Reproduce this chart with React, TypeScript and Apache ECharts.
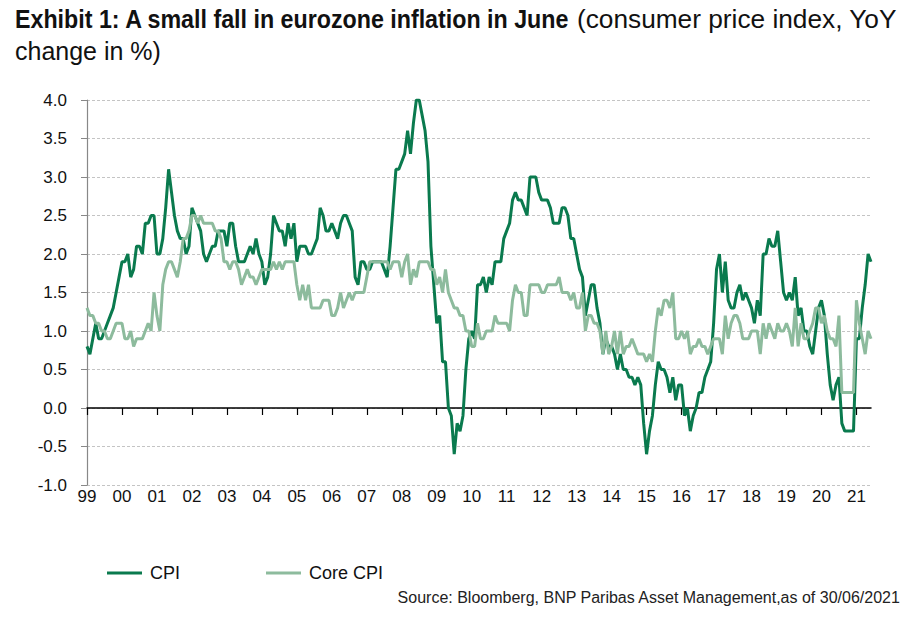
import React, { useEffect, useRef } from "react";
import * as echarts from "echarts";

// Year labels on the x axis (Jan of each year)
const yearLabels = ["99","00","01","02","03","04","05","06","07","08","09","10","11","12","13","14","15","16","17","18","19","20","21"];

// CPI, YoY % (monthly, Jan..Dec)
const cpi1999 = [0.8, 0.7, 0.9, 1.1, 0.9, 0.9, 1.0, 1.1, 1.2, 1.3, 1.5, 1.7];
const cpi2000 = [1.9, 1.9, 2.0, 1.7, 1.8, 2.1, 2.1, 2.0, 2.4, 2.4, 2.5, 2.5];
const cpi2001 = [2.0, 2.0, 2.2, 2.6, 3.1, 2.8, 2.5, 2.3, 2.2, 2.2, 2.0, 2.1];
const cpi2002 = [2.6, 2.5, 2.4, 2.3, 2.0, 1.9, 2.0, 2.1, 2.1, 2.3, 2.3, 2.3];
const cpi2003 = [2.1, 2.4, 2.4, 2.1, 1.9, 1.9, 1.9, 2.0, 2.1, 2.0, 2.2, 2.0];
const cpi2004 = [1.9, 1.6, 1.7, 2.0, 2.5, 2.4, 2.3, 2.3, 2.1, 2.4, 2.2, 2.4];
const cpi2005 = [1.9, 2.1, 2.1, 2.1, 2.0, 2.0, 2.1, 2.2, 2.6, 2.5, 2.3, 2.3];
const cpi2006 = [2.4, 2.3, 2.2, 2.4, 2.5, 2.5, 2.4, 2.3, 1.7, 1.6, 1.9, 1.9];
const cpi2007 = [1.8, 1.8, 1.9, 1.9, 1.9, 1.9, 1.8, 1.7, 2.1, 2.6, 3.1, 3.1];
const cpi2008 = [3.2, 3.3, 3.6, 3.3, 3.7, 4.0, 4.0, 3.8, 3.6, 3.2, 2.1, 1.6];
const cpi2009 = [1.1, 1.2, 0.6, 0.6, 0.0, -0.1, -0.6, -0.2, -0.3, -0.1, 0.5, 0.9];
const cpi2010 = [1.0, 0.9, 1.6, 1.6, 1.7, 1.5, 1.7, 1.6, 1.9, 1.9, 1.9, 2.2];
const cpi2011 = [2.3, 2.4, 2.7, 2.8, 2.7, 2.7, 2.6, 2.5, 3.0, 3.0, 3.0, 2.8];
const cpi2012 = [2.7, 2.7, 2.7, 2.6, 2.4, 2.4, 2.4, 2.6, 2.6, 2.5, 2.2, 2.2];
const cpi2013 = [2.0, 1.8, 1.7, 1.2, 1.4, 1.6, 1.6, 1.3, 1.1, 0.7, 0.9, 0.8];
const cpi2014 = [0.8, 0.7, 0.5, 0.7, 0.5, 0.5, 0.4, 0.4, 0.3, 0.4, 0.3, -0.2];
const cpi2015 = [-0.6, -0.3, -0.1, 0.3, 0.6, 0.5, 0.5, 0.4, 0.2, 0.4, 0.1, 0.3];
const cpi2016 = [0.3, -0.1, 0.0, -0.3, -0.1, 0.0, 0.2, 0.2, 0.4, 0.5, 0.6, 1.1];
const cpi2017 = [1.8, 2.0, 1.5, 1.9, 1.4, 1.3, 1.3, 1.5, 1.6, 1.4, 1.5, 1.4];
const cpi2018 = [1.3, 1.1, 1.4, 1.2, 2.0, 2.0, 2.2, 2.1, 2.1, 2.3, 1.9, 1.5];
const cpi2019 = [1.4, 1.5, 1.4, 1.7, 1.2, 1.3, 1.0, 1.0, 0.8, 0.7, 1.0, 1.3];
const cpi2020 = [1.4, 1.2, 0.7, 0.3, 0.1, 0.3, 0.4, -0.2, -0.3, -0.3, -0.3, -0.3];
const cpi2021 = [0.9, 0.9, 1.3, 1.6, 2.0, 1.9];

// Core CPI, YoY % (monthly, Jan..Dec)
const core1999 = [1.3, 1.2, 1.2, 1.1, 1.1, 1.0, 1.0, 0.9, 0.9, 1.0, 1.1, 1.1];
const core2000 = [1.1, 0.9, 0.9, 1.0, 0.8, 0.9, 0.9, 0.9, 1.0, 1.1, 1.0, 1.5];
const core2001 = [1.2, 1.0, 1.6, 1.8, 1.9, 1.9, 1.8, 1.7, 1.9, 2.2, 2.2, 2.3];
const core2002 = [2.5, 2.5, 2.4, 2.5, 2.4, 2.4, 2.4, 2.4, 2.3, 2.3, 2.2, 1.9];
const core2003 = [1.9, 1.8, 1.9, 1.9, 1.8, 1.6, 1.7, 1.8, 1.7, 1.7, 1.6, 1.7];
const core2004 = [1.8, 1.8, 1.8, 1.8, 1.9, 1.8, 1.9, 1.8, 1.9, 1.9, 1.9, 1.9];
const core2005 = [1.6, 1.4, 1.6, 1.4, 1.6, 1.3, 1.3, 1.3, 1.3, 1.4, 1.4, 1.4];
const core2006 = [1.2, 1.2, 1.3, 1.5, 1.3, 1.4, 1.5, 1.4, 1.5, 1.5, 1.5, 1.5];
const core2007 = [1.7, 1.9, 1.9, 1.9, 1.9, 1.9, 1.9, 1.9, 1.8, 1.9, 1.9, 1.9];
const core2008 = [1.7, 1.9, 2.0, 1.6, 1.8, 1.7, 1.9, 1.9, 1.9, 1.9, 1.8, 1.8];
const core2009 = [1.6, 1.7, 1.5, 1.8, 1.5, 1.4, 1.3, 1.3, 1.2, 1.2, 1.0, 1.0];
const core2010 = [0.8, 0.8, 1.1, 0.9, 0.9, 1.0, 1.0, 1.0, 1.2, 1.1, 1.1, 1.1];
const core2011 = [1.1, 1.0, 1.4, 1.6, 1.5, 1.5, 1.2, 1.2, 1.6, 1.6, 1.6, 1.6];
const core2012 = [1.5, 1.5, 1.6, 1.6, 1.6, 1.6, 1.7, 1.5, 1.5, 1.5, 1.4, 1.5];
const core2013 = [1.3, 1.3, 1.5, 1.0, 1.2, 1.2, 1.1, 1.1, 1.0, 0.7, 1.0, 0.7];
const core2014 = [0.8, 1.0, 0.7, 1.0, 0.7, 0.8, 0.8, 0.9, 0.8, 0.7, 0.7, 0.7];
const core2015 = [0.6, 0.7, 0.6, 1.0, 1.3, 1.2, 1.4, 1.4, 1.3, 1.5, 0.9, 0.9];
const core2016 = [1.0, 0.9, 1.0, 0.7, 0.8, 0.8, 0.9, 0.8, 0.8, 0.7, 0.8, 0.9];
const core2017 = [0.9, 0.9, 0.7, 1.2, 0.9, 1.1, 1.2, 1.2, 1.1, 0.9, 0.9, 0.9];
const core2018 = [1.0, 1.0, 1.0, 0.7, 1.1, 0.9, 1.1, 1.0, 0.9, 1.1, 1.0, 1.0];
const core2019 = [1.1, 1.0, 0.8, 1.3, 0.8, 1.1, 0.9, 0.9, 1.0, 1.1, 1.3, 1.3];
const core2020 = [1.1, 1.2, 1.0, 0.9, 0.9, 0.8, 1.2, 0.2, 0.2, 0.2, 0.2, 0.2];
const core2021 = [1.4, 1.1, 0.9, 0.7, 1.0, 0.9];

const cpi = [
  cpi1999, cpi2000, cpi2001, cpi2002, cpi2003, cpi2004, cpi2005, cpi2006,
  cpi2007, cpi2008, cpi2009, cpi2010, cpi2011, cpi2012, cpi2013, cpi2014,
  cpi2015, cpi2016, cpi2017, cpi2018, cpi2019, cpi2020, cpi2021,
].flat();
const core = [
  core1999, core2000, core2001, core2002, core2003, core2004, core2005, core2006,
  core2007, core2008, core2009, core2010, core2011, core2012, core2013, core2014,
  core2015, core2016, core2017, core2018, core2019, core2020, core2021,
].flat();

// Monthly categories "YY/M"
const categories: string[] = [];
yearLabels.forEach((y) => {
  for (let m = 1; m <= 12; m++) categories.push(`${y}/${m}`);
});
categories.length = cpi.length;

const TITLE_BOLD = "Exhibit 1: A small fall in eurozone inflation in June";
const TITLE_REST_1 = "(consumer price index, YoY";
const TITLE_REST_2 = "change in %)";
const SOURCE = "Source: Bloomberg, BNP Paribas Asset Management,as of 30/06/2021";

const CPI_COLOR = "#0a7a4e";
const CORE_COLOR = "#8dbb9d";
const SANS = "'Liberation Sans', Arial, sans-serif";

export default function App() {
  const ref = useRef<HTMLDivElement>(null);
  useEffect(() => {
    if (!ref.current) return;
    const chart = echarts.init(ref.current, null, { renderer: "svg" });
    const isYearStart = (i: number) => i % 12 === 0;
    chart.setOption({
      animation: false,
      backgroundColor: "#ffffff",
      grid: { left: 87, right: 44, top: 100, bottom: 136, containLabel: false },
      legend: {
        left: 102,
        top: 559,
        icon: "rect",
        itemWidth: 35,
        itemHeight: 3,
        itemGap: 86,
        textStyle: { fontFamily: SANS, fontSize: 18, color: "#111", padding: [0, 0, 0, 3] },
        data: ["CPI", "Core CPI"],
      },
      xAxis: [
        {
          type: "category",
          data: categories,
          boundaryGap: false,
          position: "bottom",
          axisLine: { show: false, onZero: false },
          axisTick: { show: false },
          splitLine: { show: false },
          axisLabel: {
            interval: (i: number) => isYearStart(i),
            formatter: (v: string) => v.split("/")[0],
            fontFamily: SANS,
            fontSize: 17,
            color: "#111",
            margin: 3,
          },
        },
        {
          type: "category",
          data: categories,
          boundaryGap: false,
          position: "bottom",
          axisLine: { show: true, onZero: true, lineStyle: { color: "#000", width: 1.5 } },
          axisTick: {
            show: true,
            interval: (i: number) => isYearStart(i),
            length: 7,
            lineStyle: { color: "#000", width: 1.2 },
          },
          axisLabel: { show: false },
          splitLine: { show: false },
        },
      ],
      yAxis: {
        type: "value",
        min: -1,
        max: 4,
        interval: 0.5,
        axisLine: { show: true, lineStyle: { color: "#888", width: 1.2 } },
        axisTick: { show: true, length: 6, lineStyle: { color: "#888" } },
        axisLabel: {
          formatter: (v: number) => v.toFixed(1),
          fontFamily: SANS,
          fontSize: 17,
          color: "#111",
          margin: 20,
        },
        splitLine: { show: true, lineStyle: { color: "#c4c4c4", type: [3, 2], width: 1 } },
      },
      series: [
        {
          name: "CPI",
          type: "line",
          data: cpi,
          symbol: "none",
          lineStyle: { color: CPI_COLOR, width: 3 },
          itemStyle: { color: CPI_COLOR },
        },
        {
          name: "Core CPI",
          type: "line",
          data: core,
          symbol: "none",
          lineStyle: { color: CORE_COLOR, width: 3 },
          itemStyle: { color: CORE_COLOR },
        },
      ],
      graphic: [
        {
          type: "text",
          x: 15,
          y: 7,
          scaleX: 0.93,
          style: {
            text: TITLE_BOLD,
            font: `bold 25px ${SANS}`,
            fill: "#111",
            align: "left",
            verticalAlign: "top",
          },
        },
        {
          type: "text",
          x: 577,
          y: 7,
          scaleX: 1.05,
          style: {
            text: TITLE_REST_1,
            font: `25px ${SANS}`,
            fill: "#111",
            align: "left",
            verticalAlign: "top",
          },
        },
        {
          type: "text",
          x: 15,
          y: 38,
          style: {
            text: TITLE_REST_2,
            font: `25px ${SANS}`,
            fill: "#111",
            align: "left",
            verticalAlign: "top",
          },
        },
        {
          type: "text",
          right: 14,
          top: 589,
          style: {
            text: SOURCE,
            font: `16px ${SANS}`,
            fill: "#222",
          },
        },
      ],
    });
    return () => chart.dispose();
  }, []);
  return (
    <div
      ref={ref}
      style={{ position: "fixed", left: 0, top: 0, width: 915, height: 621, background: "#fff" }}
    />
  );
}
